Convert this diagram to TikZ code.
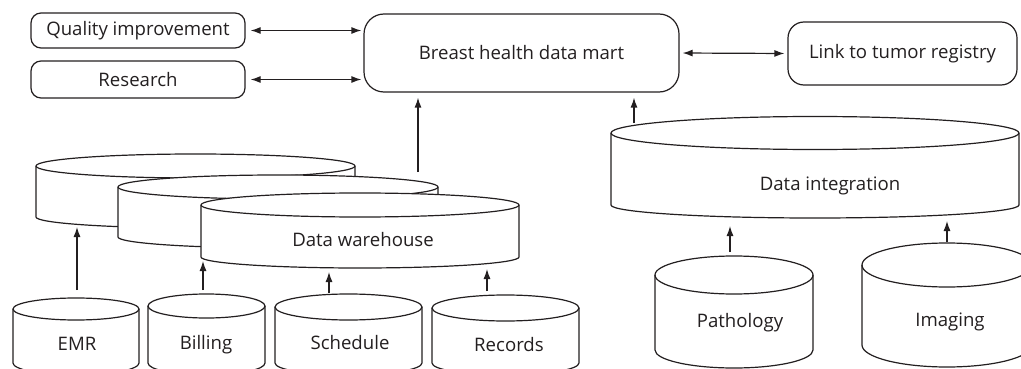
\documentclass[tikz,border=0pt]{standalone}
\usepackage{fontspec}
\setmainfont{Open Sans}
\usetikzlibrary{arrows.meta}
\definecolor{ink}{RGB}{35,31,32}
\newcommand\dbcyl[6]{%
  \pgfmathsetmacro\cylrx{(#2-#1)/2}%
  \path[db] (#1,#3) -- (#1,#4)
    arc[start angle=180,end angle=0,x radius=\cylrx pt,y radius=#6 pt]
    -- (#2,#3)
    arc[start angle=0,end angle=-180,x radius=\cylrx pt,y radius=#5 pt] -- cycle;
  \draw[dbl] (#1,#3) arc[start angle=180,end angle=0,x radius=\cylrx pt,y radius=#5 pt];
}
\tikzset{
  lw/.style={line width=1.2pt, draw=ink},
  box/.style={lw, rounded corners=10pt, inner sep=0pt, text=ink, font=\fontsize{18.6}{22}\selectfont},
  db/.style={lw, fill=white},
  dbl/.style={lw},
  lbl/.style={inner sep=0pt, text=ink, font=\fontsize{18.6}{22}\selectfont},
  arr/.style={lw, -{Latex[length=10pt,width=7pt]}},
  darr/.style={lw, {Latex[length=10pt,width=7pt]}-{Latex[length=10pt,width=7pt]}},
}
\begin{document}
\begin{tikzpicture}[x=1pt,y=1pt]
\begin{scope}[yscale=-1]
\useasboundingbox (0,0) rectangle (1021,369);
% top boxes
\node[box, minimum width=214pt, minimum height=35pt] (qi) at (138,30.5) {Quality improvement};
\node[box, minimum width=214pt, minimum height=37pt] (res) at (138,79.5) {Research};
\node[box, rounded corners=20pt, minimum width=315pt, minimum height=78pt] (bhdm) at (521.5,53) {Breast health data mart};
\node[box, rounded corners=16pt, minimum width=229pt, minimum height=63pt] (link) at (902.5,53.5) {Link to tumor registry};
\draw[darr, shorten <=5pt, shorten >=2pt] (qi.east) -- (qi.east -| bhdm.west);
\draw[darr, shorten <=5pt, shorten >=2pt] (res.east) -- (res.east -| bhdm.west);
\draw[darr, shorten <=3pt, shorten >=3pt] (bhdm.east) -- (link.west);
% data warehouse stack
\dbcyl{36}{355}{166}{217}{12}{11}
\dbcyl{118}{438}{187}{237}{12}{11}
\dbcyl{201}{519}{205}{257}{12}{11}
\node[lbl] (dw) at (363,240) {Data warehouse};
% data integration
\dbcyl{611}{1019}{133}{205}{16.5}{13}
\node[lbl] (di) at (830,186) {Data integration};
% sources
\dbcyl{13}{139}{309}{363}{11}{12}
\node[lbl] (emr) at (77,344) {EMR};
\dbcyl{148}{265}{306}{363}{12}{12}
\node[lbl] (bill) at (206,345) {Billing};
\dbcyl{275}{422}{307}{363}{13}{12}
\node[lbl] (sched) at (350,343) {Schedule};
\dbcyl{432}{579}{308}{363}{13}{12}
\node[lbl] (rec) at (509,345) {Records};
\dbcyl{655}{813}{275}{350}{19}{18}
\node[lbl] (path) at (740,323) {Pathology};
\dbcyl{862}{1032}{265}{345}{22}{22}
\node[lbl] (img) at (950,322) {Imaging};
% connector coordinates
\coordinate (dwtop) at (418,172);
\coordinate (ditop) at (634,123);
\coordinate (emrtop) at (77,290);
\coordinate (emrend) at (77,227);
\coordinate (billtop) at (203,290);
\coordinate (billend) at (203,261);
\coordinate (schedtop) at (329,293);
\coordinate (schedend) at (329,272);
\coordinate (rectop) at (487,291);
\coordinate (recend) at (487,269);
\coordinate (pathtop) at (730,252);
\coordinate (pathend) at (730,226);
\coordinate (imgtop) at (947,242);
\coordinate (imgend) at (947,221);
\draw[arr, shorten >=5pt] (dwtop) -- (dwtop |- bhdm.south);
\draw[arr, shorten >=5pt] (ditop) -- (ditop |- bhdm.south);
\draw[arr] (emrtop) -- (emrend);
\draw[arr] (billtop) -- (billend);
\draw[arr] (schedtop) -- (schedend);
\draw[arr] (rectop) -- (recend);
\draw[arr] (pathtop) -- (pathend);
\draw[arr] (imgtop) -- (imgend);
\end{scope}
\end{tikzpicture}
\end{document}
